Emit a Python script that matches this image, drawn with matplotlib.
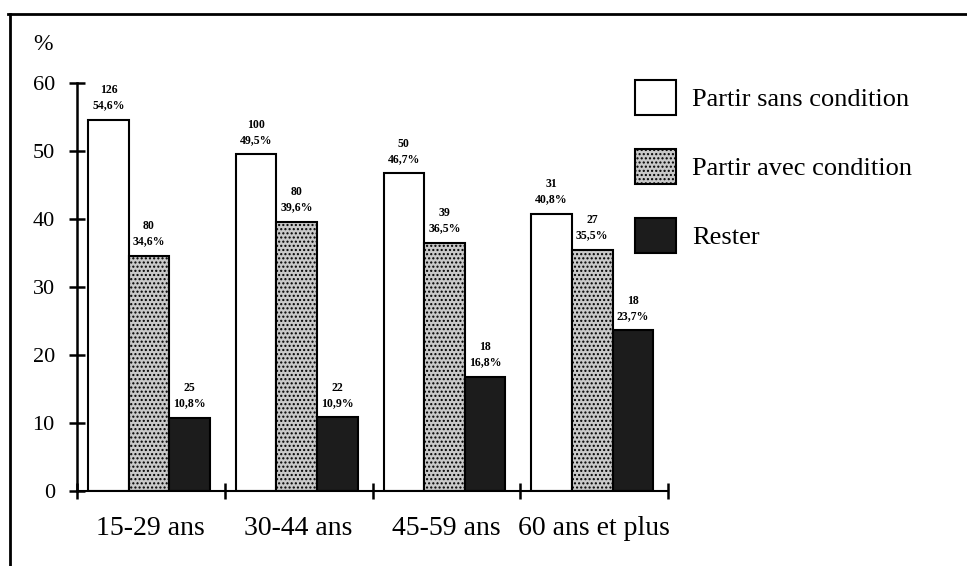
import numpy as np
import matplotlib
matplotlib.use("Agg")
import matplotlib.pyplot as plt
from matplotlib.lines import Line2D

# data
groups = ["15-29 ans", "30-44 ans", "45-59 ans", "60 ans et plus"]
series = ["Partir sans condition", "Partir avec condition", "Rester"]
pct_sans = [54.6, 49.5, 46.7, 40.8]
pct_avec = [34.6, 39.6, 36.5, 35.5]
pct_rester = [10.8, 10.9, 16.8, 23.7]
n_sans = [126, 100, 50, 31]
n_avec = [80, 80, 39, 27]
n_rester = [25, 22, 18, 18]

plt.rcParams['font.family'] = ['Liberation Serif', 'DejaVu Serif']
plt.rcParams['hatch.color'] = '#7a7a7a'

fig = plt.figure(figsize=(9.67, 5.66), dpi=100)
ax = fig.add_axes([77/967, 1-491/566, 591/967, 408/566])

styles = [
	dict(facecolor='white', edgecolor='black'),
	dict(facecolor='#c9c9c9', edgecolor='black', hatch='....'),
	dict(facecolor='#1c1c1c', edgecolor='black'),
]
pcts = [pct_sans, pct_avec, pct_rester]
counts = [n_sans, n_avec, n_rester]

x = np.arange(len(groups))
w = 0.275
start = 0.075
for k in range(3):
	left = x + start + k*w
	bars = ax.bar(left, pcts[k], width=w, align='edge', linewidth=1.5,
		label=series[k], **styles[k])
	for b, p, n in zip(bars, pcts[k], counts[k]):
		ax.text(b.get_x() + w/2, p + 1.2, "%d\n%s%%" % (n, ("%.1f" % p).replace('.', ',')),
			ha='center', va='bottom', fontsize=8.5, fontweight='bold', linespacing=1.35)

ax.set_xlim(0, 4)
ax.set_ylim(0, 60)
for s in ['top', 'right']:
	ax.spines[s].set_visible(False)
ax.spines['left'].set_linewidth(1.8)
ax.spines['bottom'].set_linewidth(1.5)
ax.set_yticks(range(0, 61, 10))
ax.tick_params(axis='y', direction='inout', length=11, width=1.8, labelsize=16, pad=10.5)
ax.set_xticks(range(0, 5))
ax.set_xticklabels([])
ax.set_xticks(x + 0.5, minor=True)
ax.set_xticklabels(groups, minor=True)
ax.tick_params(axis='x', which='major', direction='inout', length=11, width=1.8)
ax.tick_params(axis='x', which='minor', length=0, labelsize=20, pad=18)

fig.text(33/967, 1-45/566, "%", fontsize=17, ha='left', va='center')

ax.legend(loc='upper left', bbox_to_anchor=(635/967, 1-80/566), bbox_transform=fig.transFigure,
	frameon=False, fontsize=19, handlelength=1.55, handleheight=1.66, handletextpad=0.6,
	labelspacing=1.29, borderpad=0, borderaxespad=0)

# scanned page frame
fig.add_artist(Line2D([8/967, 1], [1-14/566]*2, color='black', linewidth=2, transform=fig.transFigure))
fig.add_artist(Line2D([10/967]*2, [1-14/566, 0], color='black', linewidth=2, transform=fig.transFigure))

fig.savefig("out.png", dpi=100)
